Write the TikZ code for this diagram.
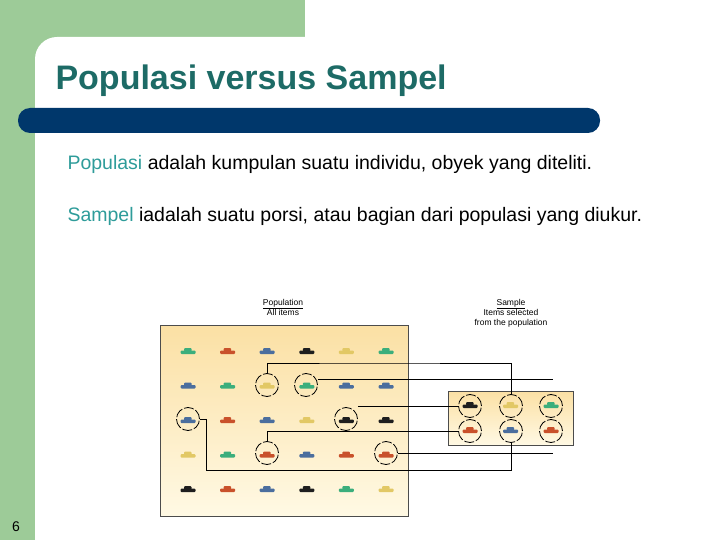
\documentclass[tikz,border=0pt]{standalone}
\usepackage{fontspec}
\setmainfont{Liberation Sans}
\definecolor{cG}{HTML}{3BAE7C}
\definecolor{cR}{HTML}{C9512B}
\definecolor{cB}{HTML}{4B6E9E}
\definecolor{cK}{HTML}{1E1E1E}
\definecolor{cY}{HTML}{E2C865}
\definecolor{side}{HTML}{9DCB98}
\definecolor{teal}{HTML}{1D6B66}
\definecolor{bar}{HTML}{00376B}
\definecolor{lbl}{HTML}{2E9C9A}
\definecolor{boxtop}{HTML}{FBE0A4}
\definecolor{boxbot}{HTML}{FFF9E4}
\tikzset{
  car/.pic={\fill[pic actions, rounded corners=1pt] (-7.5,2) rectangle (7.5,-1.5);
            \fill[pic actions, rounded corners=1pt] (-4,-0.5) rectangle (3.5,-4);},
  ring/.style={draw=black, thick, circle, minimum size=23pt, inner sep=0pt, dash pattern=on 10pt off 2pt},
  link/.style={draw=black, line width=0.8pt},
  small/.style={font=\fontsize{8.5}{10}\selectfont, align=center}
}
\begin{document}
\begin{tikzpicture}[x=1pt,y=-1pt]
\useasboundingbox (0,0) rectangle (720,540);
\fill[white] (0,0) rectangle (720,540);
\fill[side] (0,0) rectangle (305,60);
\fill[side] (0,0) rectangle (60,540);
\fill[white, rounded corners=22pt] (35,37) rectangle (760,580);
\node[anchor=west, text=teal, font=\bfseries\fontsize{34}{40}\selectfont] (title) at (52,81) {Populasi versus Sampel};
\fill[bar, rounded corners=12pt] (18,108) rectangle (600,133);
\node[anchor=west, font=\fontsize{19.5}{22}\selectfont] (t1) at (64,164) {\textcolor{lbl}{Populasi} adalah kumpulan suatu individu, obyek yang diteliti.};
\node[anchor=west, font=\fontsize{19.5}{22}\selectfont] (t2) at (64,216) {\textcolor{lbl}{Sampel} iadalah suatu porsi, atau bagian dari populasi yang diukur.};
\node[font=\fontsize{14}{16}\selectfont] (pg) at (16,527) {6};
% boxes
\shade[top color=boxtop, bottom color=boxbot, draw=black!70] (160,325) rectangle (408,516);
\shade[top color=boxtop, bottom color=boxbot, draw=black!70] (448,391) rectangle (573,445);
\node[small] (plab) at (283,307) {\underline{Population}\\All items};
\node[small] (slab) at (511,313) {\underline{Sample}\\Items selected\\from the population};
% cars
\foreach \row [count=\j] in {{cG,cR,cB,cK,cY,cG},{cB,cG,cY,cG,cB,cB},{cB,cR,cB,cY,cK,cK},{cY,cG,cR,cB,cR,cR},{cK,cR,cB,cK,cG,cY}}{
  \foreach \c [count=\i] in \row {
    \pgfmathsetmacro\xx{188+39.6*(\i-1)}
    \pgfmathsetmacro\yy{351+34.5*(\j-1)}
    \pic[fill=\c] at (\xx,\yy+1) {car};
  }
}
\foreach \c [count=\i] in {cK,cY,cG}{\pic[fill=\c] at (470+40.5*\i-40.5,406) {car};}
\foreach \c [count=\i] in {cR,cB,cR}{\pic[fill=\c] at (470+40.5*\i-40.5,431) {car};}
% rings
\node[ring] (p23) at (267,385) {};
\node[ring] (p24) at (306,385) {};
\node[ring] (p31) at (188,419) {};
\node[ring] (p35) at (346,419) {};
\node[ring] (p43) at (267,453) {};
\node[ring] (p46) at (386,453) {};
\node[ring] (s11) at (470,406) {};
\node[ring] (s12) at (511,406) {};
\node[ring] (s13) at (551,406) {};
\node[ring] (s21) at (470,431) {};
\node[ring] (s22) at (511,431) {};
\node[ring] (s23) at (551,431) {};
\coordinate (e1) at (553,379);
\coordinate (e2) at (553,453);
% links
\draw[link] (p23.north) |- (370,363) -| (s12.north);
\draw[link] (p24.east |- e1) -- (e1);
\draw[link] (p35.east |- s11.west) -- (s11.west);
\draw[link] (p43.north) |- (s21.west);
\draw[link] (p46.east) -- (e2);
\draw[link] (p31.east) -- (206,419) -- (206,470) -| (s22.south);
\end{tikzpicture}
\end{document}
